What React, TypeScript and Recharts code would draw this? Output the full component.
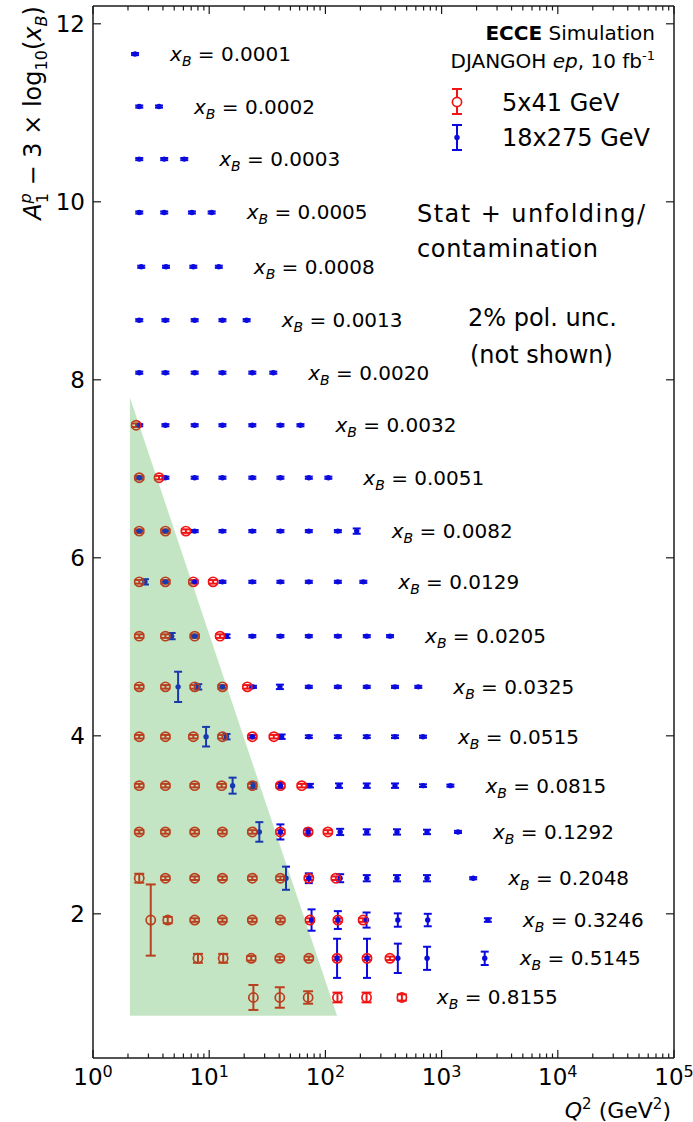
import React from "react";
import { ComposedChart, Scatter, XAxis, YAxis, ErrorBar } from "recharts";

const FONT = "DejaVu Sans, sans-serif";
const RED = "#f01414";
const BLUE = "#0a0ae0";
const GREEN = "#3caa3c";
const AXIS = "#1a1a1a";

// one row per x_B bin, plotted at A1 - 3*log10(xB)
const xbLabels = [
  "0.0001", "0.0002", "0.0003", "0.0005", "0.0008", "0.0013", "0.0020",
  "0.0032", "0.0051", "0.0082", "0.0129", "0.0205", "0.0325", "0.0515",
  "0.0815", "0.1292", "0.2048", "0.3246", "0.5145", "0.8155",
];
const rowOffsets = [
  11.66, 11.07, 10.48, 9.88, 9.27, 8.67, 8.08, 7.49, 6.9, 6.3, 5.73, 5.12,
  4.55, 3.99, 3.44, 2.92, 2.4, 1.93, 1.5, 1.06,
];

// 18x275 GeV
const blueQ2 = [
  [2.3],
  [2.5, 3.7],
  [2.5, 4.1, 6.1],
  [2.5, 4.1, 7.1, 10.5],
  [2.6, 4.25, 7.3, 12.1],
  [2.5, 4.2, 7.5, 13, 21],
  [2.5, 4.2, 7.5, 13, 23.5, 35.6],
  [2.5, 4.2, 7.5, 13, 23.5, 41, 61],
  [2.5, 4.2, 7.5, 13, 23.5, 41, 72, 106],
  [2.5, 4.2, 7.5, 13, 23.5, 41, 72, 128, 186],
  [2.8, 4.2, 7.5, 13, 23.5, 41, 72, 128, 212],
  [4.75, 7.5, 14.1, 23.5, 41, 72, 128, 227, 360],
  [5.4, 8.05, 13, 23.8, 40.6, 72, 128, 227, 397, 630],
  [9.4, 14.1, 23.5, 42, 72, 128, 227, 397, 692],
  [15.9, 23.9, 41, 73.6, 131, 227, 397, 692, 1190],
  [27, 41, 71, 134, 227, 413, 749, 1384],
  [45.8, 72, 134, 227, 413, 749, 1870],
  [76, 128, 226, 420, 760, 2500],
  [126, 228, 420, 750, 2350],
  [],
];
const blueErr = [
  [0.012],
  [0.012, 0.012],
  [0.012, 0.012, 0.012],
  [0.012, 0.012, 0.012, 0.012],
  [0.012, 0.012, 0.012, 0.012],
  [0.012, 0.012, 0.012, 0.012, 0.012],
  [0.012, 0.012, 0.012, 0.012, 0.012, 0.012],
  [0.012, 0.012, 0.012, 0.012, 0.012, 0.012, 0.012],
  [0.012, 0.012, 0.012, 0.012, 0.012, 0.012, 0.012, 0.012],
  [0.012, 0.012, 0.012, 0.012, 0.012, 0.012, 0.012, 0.012, 0.03],
  [0.03, 0.012, 0.012, 0.012, 0.012, 0.012, 0.012, 0.012, 0.012],
  [0.035, 0.012, 0.02, 0.012, 0.012, 0.012, 0.012, 0.012, 0.012],
  [0.17, 0.03, 0.015, 0.012, 0.025, 0.012, 0.012, 0.012, 0.012, 0.012],
  [0.11, 0.03, 0.015, 0.025, 0.015, 0.015, 0.015, 0.015, 0.012],
  [0.09, 0.035, 0.03, 0.02, 0.025, 0.025, 0.025, 0.015, 0.012],
  [0.11, 0.085, 0.035, 0.035, 0.03, 0.03, 0.025, 0.012],
  [0.13, 0.055, 0.045, 0.035, 0.035, 0.035, 0.012],
  [0.12, 0.1, 0.085, 0.075, 0.07, 0.02],
  [0.22, 0.22, 0.165, 0.13, 0.075],
  [],
];

// 5x41 GeV
const redQ2 = [
  [], [], [], [], [], [], [],
  [2.35],
  [2.5, 3.7],
  [2.5, 4.2, 6.3],
  [2.5, 4.2, 7.3, 10.8],
  [2.5, 4.2, 7.5, 12.4],
  [2.5, 4.2, 7.5, 13, 21.3],
  [2.5, 4.2, 7.3, 13, 23.5, 36],
  [2.5, 4.2, 7.5, 12.8, 23.5, 41, 62.5],
  [2.5, 4.2, 7.5, 13, 23.5, 41, 71, 105],
  [2.5, 4.2, 7.5, 13, 23.5, 41, 72, 123],
  [3.14, 4.4, 7.5, 13, 23.5, 41, 73.6, 128, 211],
  [8.0, 13.2, 23, 40.5, 72, 126, 228, 359],
  [24, 40.5, 71, 127, 226, 455],
];
const redErr = [
  [], [], [], [], [], [], [],
  [0.02],
  [0.02, 0.02],
  [0.02, 0.02, 0.02],
  [0.02, 0.02, 0.02, 0.02],
  [0.02, 0.02, 0.02, 0.02],
  [0.02, 0.02, 0.02, 0.02, 0.02],
  [0.02, 0.02, 0.02, 0.02, 0.02, 0.02],
  [0.02, 0.02, 0.02, 0.02, 0.02, 0.02, 0.02],
  [0.02, 0.02, 0.02, 0.02, 0.02, 0.02, 0.02, 0.02],
  [0.05, 0.02, 0.02, 0.02, 0.02, 0.02, 0.02, 0.02],
  [0.4, 0.035, 0.02, 0.02, 0.02, 0.02, 0.02, 0.02, 0.02],
  [0.05, 0.05, 0.025, 0.02, 0.02, 0.02, 0.02, 0.02],
  [0.14, 0.115, 0.07, 0.055, 0.055, 0.035],
];

// shaded region corners (Q2, y)
const shadeQ2 = [2.08, 2.08, 126];
const shadeY = [7.8, 0.854, 0.854];

const xMajorTicks = [1, 10, 100, 1000, 10000, 100000];
const xMinorSteps = [2, 3, 4, 5, 6, 7, 8, 9];
const yTicks = [2, 4, 6, 8, 10, 12];

const xTicks = [
  ...xMajorTicks,
  ...xMajorTicks.slice(0, -1).flatMap((d) => xMinorSteps.map((m) => m * d)),
].sort((a, b) => a - b);

const buildPoints = (qs: number[][], errs: number[][]) =>
  rowOffsets.flatMap((y, i) => qs[i].map((q, j) => ({ q, y, err: errs[i][j] })));

const bluePoints = buildPoints(blueQ2, blueErr);
const redPoints = buildPoints(redQ2, redErr);
const labelPoints = rowOffsets.map((y, i) => ({
  q: Math.max(...blueQ2[i], ...redQ2[i]),
  y,
  label: xbLabels[i],
}));
const shadePoints = shadeQ2.map((q, i) => ({ q, y: shadeY[i] }));

const isMajor = (v: number) => {
  const e = Math.log10(v);
  return Math.abs(e - Math.round(e)) < 1e-9;
};

function BottomTick(props: any) {
  const { x, y, payload } = props;
  const major = isMajor(payload.value);
  return (
    <g>
      <line x1={x} x2={x} y1={y} y2={y - (major ? 8 : 4.5)} stroke={AXIS} strokeWidth={1.2} />
      {major && (
        <text x={x} y={y + 27} textAnchor="middle" fontFamily={FONT} fontSize={23} fill="#000">
          10
          <tspan dy={-8} fontSize={16}>
            {Math.round(Math.log10(payload.value))}
          </tspan>
        </text>
      )}
    </g>
  );
}

function TopTick(props: any) {
  const { x, y, payload } = props;
  const major = isMajor(payload.value);
  return <line x1={x} x2={x} y1={y} y2={y + (major ? 8 : 4.5)} stroke={AXIS} strokeWidth={1.2} />;
}

function LeftTick(props: any) {
  const { x, y, payload } = props;
  return (
    <g>
      <line x1={x} x2={x + 8} y1={y} y2={y} stroke={AXIS} strokeWidth={1.2} />
      <text x={x - 8} y={y + 8.3} textAnchor="end" fontFamily={FONT} fontSize={23} fill="#000">
        {payload.value}
      </text>
    </g>
  );
}

function RightTick(props: any) {
  const { x, y } = props;
  return <line x1={x} x2={x - 8} y1={y} y2={y} stroke={AXIS} strokeWidth={1.2} />;
}

const BlueDot = (p: any) => <circle cx={p.cx} cy={p.cy} r={2.7} fill={BLUE} />;
const RedRing = (p: any) => (
  <circle cx={p.cx} cy={p.cy} r={4.6} fill="none" stroke={RED} strokeWidth={1.7} />
);
const NoMark = () => <g />;

function RowLabel(p: any) {
  const label = p.payload?.label ?? p.label;
  return (
    <text x={p.cx + 35} y={p.cy + 7} fontFamily={FONT} fontSize={20} fill="#000">
      <tspan fontStyle="italic">x</tspan>
      <tspan fontStyle="italic" fontSize={14} dy={5}>
        B
      </tspan>
      <tspan dy={-5}>{" = " + label}</tspan>
    </text>
  );
}

export default function App() {
  return (
    <div style={{ position: "absolute", left: 0, top: 0, width: 693, height: 1122, background: "#fff" }}>
      <ComposedChart width={693} height={1122} margin={{ top: 5, right: 18, bottom: 24, left: 0 }}>
        <XAxis
          xAxisId="b"
          dataKey="q"
          type="number"
          scale="log"
          domain={[1, 100000]}
          allowDataOverflow
          ticks={xTicks}
          interval={0}
          height={40}
          tickSize={0}
          tickMargin={0}
          tickLine={false}
          tick={(p: any) => <BottomTick {...p} />}
          axisLine={{ stroke: AXIS, strokeWidth: 1.5 }}
        />
        <XAxis
          xAxisId="t"
          orientation="top"
          dataKey="q"
          type="number"
          scale="log"
          domain={[1, 100000]}
          allowDataOverflow
          ticks={xTicks}
          interval={0}
          height={1}
          tickSize={0}
          tickMargin={0}
          tickLine={false}
          tick={(p: any) => <TopTick {...p} />}
          axisLine={{ stroke: AXIS, strokeWidth: 1.5 }}
        />
        <YAxis
          yAxisId="l"
          dataKey="y"
          type="number"
          domain={[0.38, 12.2]}
          allowDataOverflow
          ticks={yTicks}
          interval={0}
          width={93}
          tickSize={0}
          tickMargin={0}
          tickLine={false}
          tick={(p: any) => <LeftTick {...p} />}
          axisLine={{ stroke: AXIS, strokeWidth: 1.5 }}
        />
        <YAxis
          yAxisId="r"
          orientation="right"
          dataKey="y"
          type="number"
          domain={[0.38, 12.2]}
          allowDataOverflow
          ticks={yTicks}
          interval={0}
          width={1}
          tickSize={0}
          tickMargin={0}
          tickLine={false}
          tick={(p: any) => <RightTick {...p} />}
          axisLine={{ stroke: AXIS, strokeWidth: 1.5 }}
        />
        <Scatter
          xAxisId="b"
          yAxisId="l"
          data={bluePoints}
          shape={BlueDot}
          isAnimationActive={false}
        >
          <ErrorBar dataKey="err" direction="y" width={4} stroke={BLUE} strokeWidth={2} isAnimationActive={false} />
        </Scatter>
        <Scatter
          xAxisId="b"
          yAxisId="l"
          data={redPoints}
          shape={RedRing}
          isAnimationActive={false}
        >
          <ErrorBar dataKey="err" direction="y" width={5} stroke={RED} strokeWidth={2} isAnimationActive={false} />
        </Scatter>
        <Scatter
          xAxisId="b"
          yAxisId="l"
          data={shadePoints}
          shape={NoMark}
          line={{ fill: GREEN, fillOpacity: 0.3, stroke: "none" }}
          lineType="joint"
          isAnimationActive={false}
        />
        <Scatter
          xAxisId="b"
          yAxisId="l"
          data={labelPoints}
          shape={RowLabel}
          isAnimationActive={false}
        />
      </ComposedChart>

      <svg
        width={693}
        height={1122}
        style={{ position: "absolute", left: 0, top: 0, pointerEvents: "none" }}
        fontFamily={FONT}
      >
        {/* y axis title */}
        <text transform="translate(41,113) rotate(-90)" textAnchor="middle" fontSize={24} fill="#000">
          <tspan fontStyle="italic">A</tspan>
          <tspan fontSize={16} dy={-10} fontStyle="italic">
            p
          </tspan>
          <tspan fontSize={16} dx={-10} dy={17}>
            1
          </tspan>
          <tspan dy={-7}>{" \u2212 3 \u00d7 log"}</tspan>
          <tspan fontSize={16} dy={6}>
            10
          </tspan>
          <tspan dy={-6}>(</tspan>
          <tspan fontStyle="italic">x</tspan>
          <tspan fontSize={16} dy={6} fontStyle="italic">
            B
          </tspan>
          <tspan dy={-6}>)</tspan>
        </text>

        {/* x axis title */}
        <text x={671} y={1118} textAnchor="end" fontSize={22} fill="#000">
          <tspan fontStyle="italic">Q</tspan>
          <tspan fontSize={15} dy={-9}>
            2
          </tspan>
          <tspan dy={9}>{" (GeV"}</tspan>
          <tspan fontSize={15} dy={-9}>
            2
          </tspan>
          <tspan dy={9}>)</tspan>
        </text>

        {/* header */}
        <text x={655} y={40} textAnchor="end" fontSize={20} fill="#000">
          <tspan fontWeight="bold">ECCE</tspan>
          <tspan> Simulation</tspan>
        </text>
        <text x={655} y={68} textAnchor="end" fontSize={20} fill="#000">
          <tspan>DJANGOH </tspan>
          <tspan fontStyle="italic">ep</tspan>
          <tspan>, 10 fb</tspan>
          <tspan fontSize={13} dy={-8}>
            -1
          </tspan>
        </text>

        {/* legend */}
        <g stroke={RED} strokeWidth={2}>
          <line x1={457} x2={457} y1={89} y2={114} />
          <line x1={452} x2={462} y1={89} y2={89} />
          <line x1={452} x2={462} y1={114} y2={114} />
          <circle cx={457} cy={102} r={4.6} fill="#fff" strokeWidth={1.7} />
        </g>
        <g stroke={BLUE} strokeWidth={2}>
          <line x1={457} x2={457} y1={125} y2={150} />
          <line x1={452} x2={462} y1={125} y2={125} />
          <line x1={452} x2={462} y1={150} y2={150} />
          <circle cx={457} cy={137.5} r={2.7} fill={BLUE} stroke="none" />
        </g>
        <text x={502} y={111} fontSize={24} fill="#000">
          5x41 GeV
        </text>
        <text x={502} y={146} fontSize={24} fill="#000">
          18x275 GeV
        </text>

        {/* notes */}
        <text x={417} y={222} fontSize={24} fill="#000" textLength={228} lengthAdjust="spacing">
          {"Stat + unfolding/"}
        </text>
        <text x={417} y={257} fontSize={24} fill="#000" textLength={181} lengthAdjust="spacing">
          contamination
        </text>
        <text x={468} y={326} fontSize={24} fill="#000">
          2% pol. unc.
        </text>
        <text x={470} y={363} fontSize={24} fill="#000">
          (not shown)
        </text>
      </svg>
    </div>
  );
}
